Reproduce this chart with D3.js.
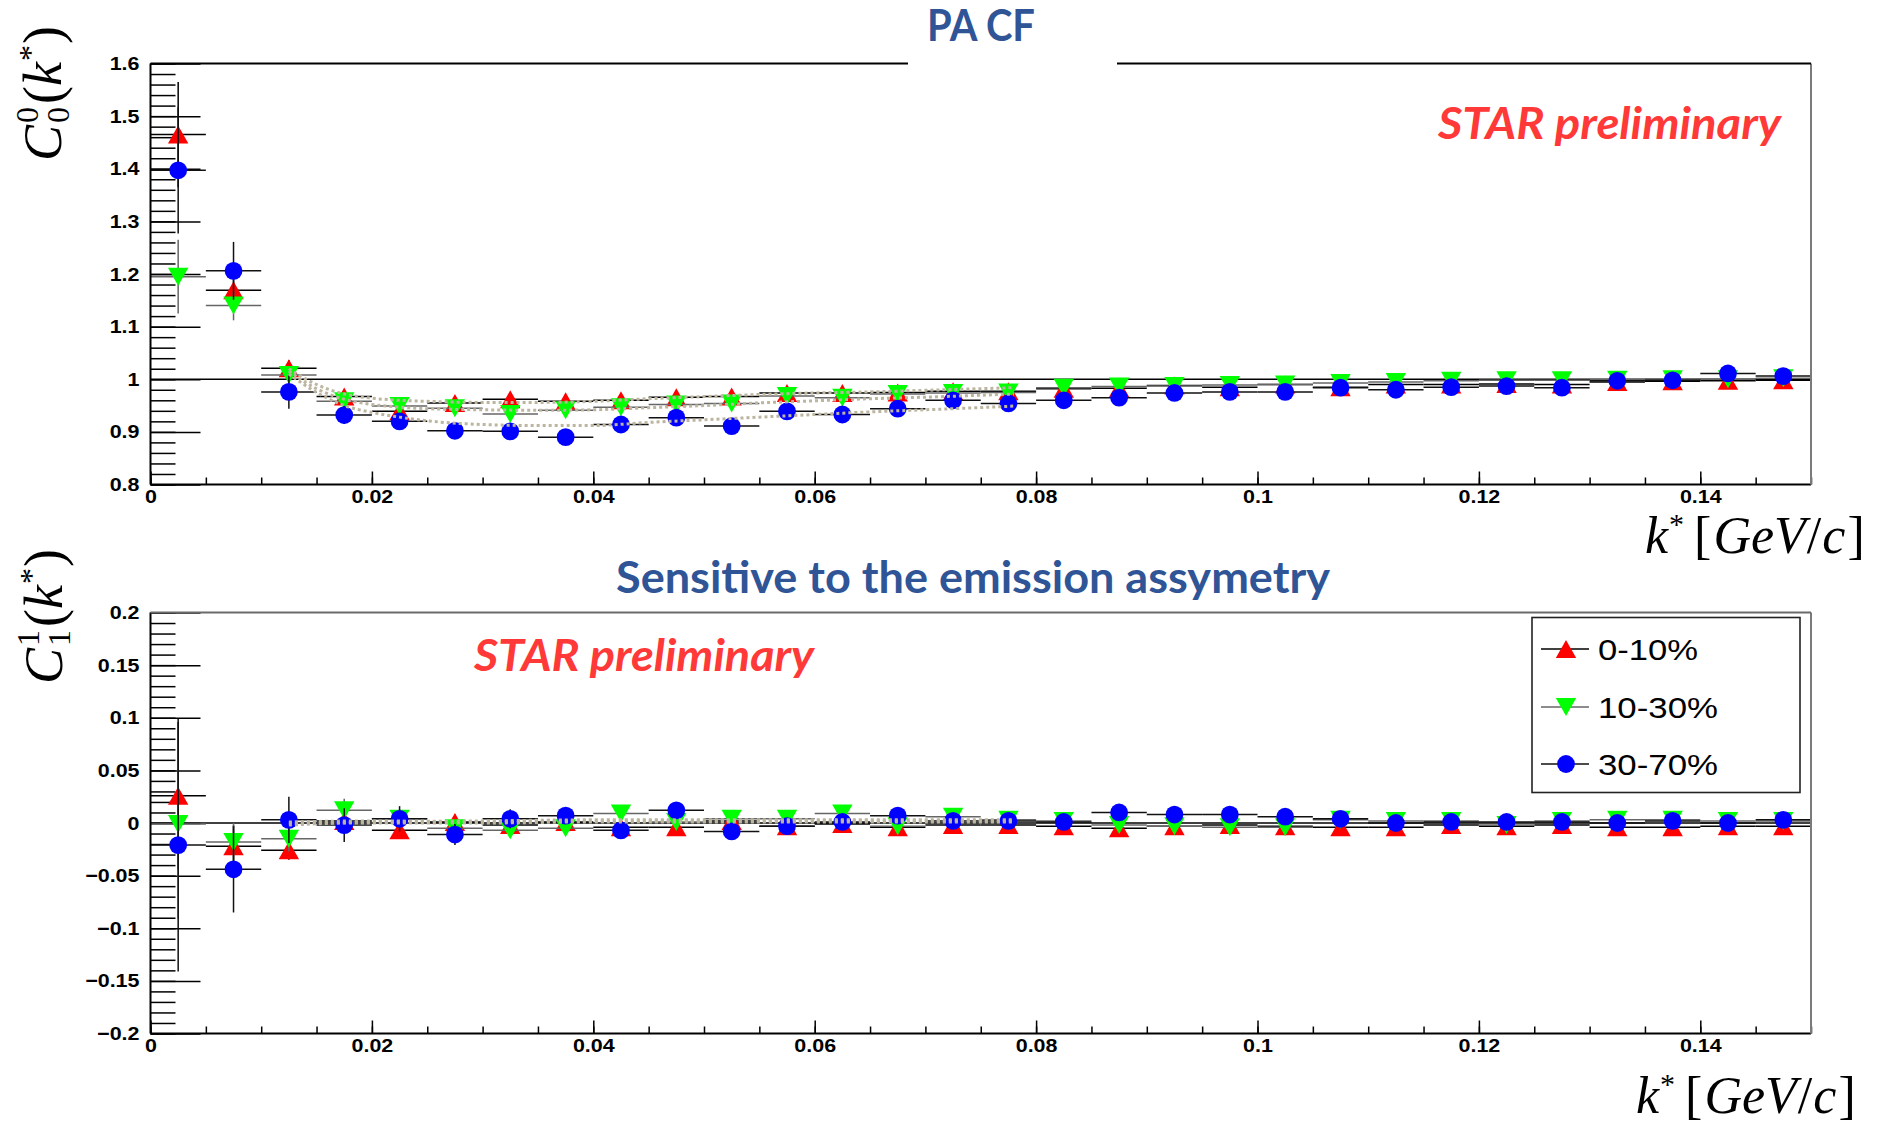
<!DOCTYPE html>
<html>
<head>
<meta charset="utf-8">
<script src="https://cdn.jsdelivr.net/npm/d3@7"></script>
<style>
  html, body { margin: 0; padding: 0; background: #fff; }
  svg { display: block; }
</style>
</head>
<body>
<svg id="chart" width="1881" height="1123"></svg>
<script>
// ---- data -------------------------------------------------------------
const kStar = [0.0025, 0.0075, 0.0125, 0.0175, 0.0225, 0.0275, 0.0325, 0.0375, 0.0425, 0.0475,
               0.0525, 0.0575, 0.0625, 0.0675, 0.0725, 0.0775, 0.0825, 0.0875, 0.0925, 0.0975,
               0.1025, 0.1075, 0.1125, 0.1175, 0.1225, 0.1275, 0.1325, 0.1375, 0.1425, 0.1475];
const binHalfWidth = 0.0025;

const seriesNames = ["0-10%", "10-30%", "30-70%"];

// C_0^0(k*)
const c00_0_10 = [1.465, 1.169, 1.021, 0.967, 0.939, 0.955, 0.962, 0.958, 0.960, 0.966,
                  0.967, 0.974, 0.974, 0.975, 0.977, 0.977, 0.982, 0.983, 0.988, 0.985,
                  0.990, 0.985, 0.990, 0.990, 0.991, 0.990, 0.995, 0.996, 0.997, 0.998];
const c00_10_30 = [1.195, 1.140, 1.008, 0.958, 0.949, 0.945, 0.934, 0.941, 0.947, 0.952,
                   0.954, 0.968, 0.965, 0.972, 0.974, 0.975, 0.984, 0.986, 0.987, 0.989,
                   0.990, 0.993, 0.995, 0.997, 0.998, 0.998, 0.999, 1.000, 1.000, 1.002];
const c00_30_70 = [1.397, 1.206, 0.976, 0.932, 0.920, 0.902, 0.901, 0.890, 0.914, 0.927,
                   0.911, 0.939, 0.933, 0.944, 0.960, 0.954, 0.960, 0.965, 0.974, 0.976,
                   0.976, 0.984, 0.980, 0.985, 0.987, 0.984, 0.997, 0.998, 1.011, 1.006];
const c00Err_0_10 = [0.100, 0.030, 0.015, 0.012, 0.010, 0.009, 0.009, 0.008, 0.008, 0.007,
                     0.007, 0.007, 0.006, 0.006, 0.006, 0.006, 0.005, 0.005, 0.005, 0.005,
                     0.005, 0.005, 0.004, 0.004, 0.004, 0.004, 0.004, 0.004, 0.004, 0.004];
const c00Err_10_30 = [0.070, 0.028, 0.015, 0.011, 0.009, 0.009, 0.008, 0.008, 0.007, 0.007,
                      0.007, 0.006, 0.006, 0.006, 0.006, 0.005, 0.005, 0.005, 0.005, 0.005,
                      0.004, 0.004, 0.004, 0.004, 0.004, 0.004, 0.004, 0.004, 0.004, 0.004];
const c00Err_30_70 = [0.120, 0.055, 0.032, 0.017, 0.013, 0.011, 0.010, 0.010, 0.009, 0.009,
                      0.008, 0.008, 0.008, 0.007, 0.007, 0.007, 0.006, 0.006, 0.006, 0.006,
                      0.006, 0.005, 0.005, 0.005, 0.005, 0.005, 0.005, 0.005, 0.005, 0.005];

// C_1^1(k*)
const c11_0_10 = [0.026, -0.022, -0.026, 0.002, -0.007, 0.001, -0.002, 0.001, -0.004, -0.004,
                  0.002, -0.003, -0.001, -0.004, -0.002, -0.002, -0.003, -0.005, -0.003, -0.002,
                  -0.003, -0.004, -0.004, -0.002, -0.003, -0.002, -0.004, -0.004, -0.003, -0.003];
const c11_10_30 = [-0.001, -0.018, -0.015, 0.012, 0.004, -0.005, -0.007, -0.005, 0.009, 0.001,
                   0.004, 0.004, 0.009, -0.003, 0.006, 0.003, 0.002, -0.002, -0.003, -0.004,
                   -0.004, 0.003, 0.002, 0.002, -0.002, 0.002, 0.003, 0.003, 0.002, 0.002];
const c11_30_70 = [-0.021, -0.044, 0.003, -0.002, 0.004, -0.011, 0.004, 0.007, -0.007, 0.012,
                   -0.008, -0.003, 0.001, 0.007, 0.002, 0.002, 0.001, 0.010, 0.008, 0.008,
                   0.006, 0.004, 0.000, 0.001, 0.001, 0.001, 0.000, 0.002, 0.000, 0.003];
const c11Err_0_10 = [0.070, 0.020, 0.009, 0.009, 0.008, 0.007, 0.006, 0.006, 0.005, 0.005,
                     0.005, 0.005, 0.004, 0.004, 0.004, 0.004, 0.004, 0.004, 0.004, 0.004,
                     0.004, 0.004, 0.004, 0.004, 0.004, 0.004, 0.004, 0.004, 0.004, 0.004];
const c11Err_10_30 = [0.090, 0.018, 0.012, 0.011, 0.009, 0.008, 0.007, 0.006, 0.006, 0.005,
                      0.005, 0.005, 0.005, 0.004, 0.004, 0.004, 0.004, 0.004, 0.004, 0.004,
                      0.004, 0.004, 0.004, 0.004, 0.004, 0.004, 0.004, 0.004, 0.004, 0.004];
const c11Err_30_70 = [0.120, 0.041, 0.022, 0.016, 0.012, 0.010, 0.009, 0.008, 0.007, 0.007,
                      0.006, 0.006, 0.006, 0.006, 0.005, 0.005, 0.005, 0.005, 0.005, 0.005,
                      0.005, 0.005, 0.005, 0.005, 0.005, 0.005, 0.005, 0.005, 0.005, 0.005];

// fit curves, [k*, value]
const c00Fit_0_10 = [[0.0125, 1.020], [0.015, 0.990], [0.0175, 0.972], [0.02, 0.964], [0.0225, 0.960],
                     [0.025, 0.958], [0.03, 0.956], [0.035, 0.956], [0.04, 0.958], [0.045, 0.963],
                     [0.05, 0.967], [0.055, 0.971], [0.06, 0.974], [0.065, 0.976], [0.07, 0.979], [0.078, 0.984]];
const c00Fit_10_30 = [[0.0125, 1.015], [0.015, 0.982], [0.0175, 0.962], [0.02, 0.952], [0.0225, 0.947],
                      [0.025, 0.944], [0.03, 0.942], [0.035, 0.941], [0.04, 0.942], [0.045, 0.946],
                      [0.05, 0.950], [0.055, 0.955], [0.06, 0.959], [0.065, 0.963], [0.07, 0.966], [0.078, 0.972]];
const c00Fit_30_70 = [[0.0125, 1.010], [0.015, 0.975], [0.0175, 0.950], [0.02, 0.937], [0.0225, 0.928],
                      [0.025, 0.921], [0.03, 0.914], [0.035, 0.912], [0.04, 0.912], [0.045, 0.918],
                      [0.05, 0.923], [0.055, 0.928], [0.06, 0.933], [0.065, 0.938], [0.07, 0.942], [0.078, 0.949]];
const c11Fit_0_10 = [[0.0125, -0.002], [0.02, 0.001], [0.03, 0.002], [0.04, 0.003], [0.05, 0.003],
                     [0.06, 0.003], [0.07, 0.003], [0.078, 0.003]];
const c11Fit_10_30 = [[0.0125, 0.001], [0.02, 0.002], [0.03, 0.001], [0.04, 0.002], [0.05, 0.002],
                      [0.06, 0.002], [0.07, 0.002], [0.078, 0.002]];
const c11Fit_30_70 = [[0.0125, 0.000], [0.02, 0.000], [0.03, 0.000], [0.04, 0.001], [0.05, 0.001],
                      [0.06, 0.001], [0.07, 0.001], [0.078, 0.001]];

// axis ticks
const xTickValues = [0, 0.02, 0.04, 0.06, 0.08, 0.1, 0.12, 0.14];
const c00TickValues = [0.8, 0.9, 1, 1.1, 1.2, 1.3, 1.4, 1.5, 1.6];
const c11TickValues = [-0.2, -0.15, -0.1, -0.05, 0, 0.05, 0.1, 0.15, 0.2];

// ---- styles -----------------------------------------------------------
const markerFill = ["#ff0000", "#00ff00", "#0000ff"];
const errColor = ["#000000", "#666666", "#111111"];
const markerShape = ["up", "down", "circle"];
const titleBlue = "#2f5597";
const starRed = "#ff3838";
const fitColor = "#bcb5a0";

const svg = d3.select("#chart");
const W = 1881, H = 1123;
svg.append("rect").attr("width", W).attr("height", H).attr("fill", "#fff");

const x = d3.scaleLinear().domain([0, 0.15]).range([150.5, 1811]);
const yTop = d3.scaleLinear().domain([0.8, 1.6]).range([484.5, 63.5]);
const yBot = d3.scaleLinear().domain([-0.2, 0.2]).range([1033.5, 612.5]);

const labelFont = "'Liberation Sans', Arial, Helvetica, sans-serif";
const mathFont = "'Liberation Serif', 'DejaVu Serif', serif";

function markerPath(shape) {
  if (shape === "up") return "M-10.2,9L10.2,9L0,-9Z";
  if (shape === "down") return "M-10.2,-9L10.2,-9L0,9Z";
  return d3.arc()({innerRadius: 0, outerRadius: 8.9, startAngle: 0, endAngle: 2 * Math.PI});
}

// bold tick labels, slightly widened
function styleTickText(sel) {
  sel.attr("font-family", labelFont).attr("font-weight", "bold")
    .attr("font-size", 19).attr("fill", "#000")
    .each(function() {
      const w = this.getComputedTextLength();
      d3.select(this).attr("textLength", w * 1.13).attr("lengthAdjust", "spacingAndGlyphs");
    });
}

function drawAxes(y, majorTicks, minorCount, axisG) {
  // y axis: ticks point into the frame
  axisG.append("g")
    .attr("transform", `translate(${x(0)},0)`)
    .call(d3.axisLeft(y).tickValues(y.ticks(minorCount)).tickSizeInner(-25).tickSizeOuter(0).tickFormat(""))
    .call(g => g.select(".domain").remove())
    .call(g => g.selectAll("line").attr("stroke", "#000").attr("stroke-width", 1.5));
  axisG.append("g")
    .attr("transform", `translate(${x(0)},0)`)
    .call(d3.axisLeft(y).tickValues(majorTicks).tickSizeInner(-50).tickSizeOuter(0)
      .tickPadding(11).tickFormat(d3.format("~g")))
    .call(g => g.select(".domain").remove())
    .call(g => g.selectAll("line").attr("stroke", "#000").attr("stroke-width", 1.5))
    .call(g => styleTickText(g.selectAll("text")));
  // x axis
  const y0 = y.range()[0];
  axisG.append("g")
    .attr("transform", `translate(0,${y0})`)
    .call(d3.axisBottom(x).tickValues(x.ticks(30)).tickSizeInner(-7).tickSizeOuter(0).tickFormat(""))
    .call(g => g.select(".domain").remove())
    .call(g => g.selectAll("line").attr("stroke", "#000").attr("stroke-width", 1.5));
  axisG.append("g")
    .attr("transform", `translate(0,${y0})`)
    .call(d3.axisBottom(x).tickValues(xTickValues).tickSizeInner(-13).tickSizeOuter(0)
      .tickPadding(5).tickFormat(d3.format("~g")))
    .call(g => g.select(".domain").remove())
    .call(g => g.selectAll("line").attr("stroke", "#000").attr("stroke-width", 1.5))
    .call(g => styleTickText(g.selectAll("text")));
}

function drawFrame(y, g, gap) {
  const [x0, x1] = x.range();
  const [yb, yt] = y.range();
  g.append("line").attr("x1", x0).attr("x2", x0).attr("y1", yt).attr("y2", yb)
    .attr("stroke", "#000").attr("stroke-width", 2);
  g.append("line").attr("x1", x0).attr("x2", x1).attr("y1", yb).attr("y2", yb)
    .attr("stroke", "#000").attr("stroke-width", 2);
  g.append("line").attr("x1", x1).attr("x2", x1).attr("y1", yt).attr("y2", yb)
    .attr("stroke", "#7a7a7a").attr("stroke-width", 2);
  const topColor = gap ? "#000" : "#6a6a6a";
  if (gap) {
    g.append("line").attr("x1", x0).attr("x2", gap[0]).attr("y1", yt).attr("y2", yt)
      .attr("stroke", topColor).attr("stroke-width", 2);
    g.append("line").attr("x1", gap[1]).attr("x2", x1).attr("y1", yt).attr("y2", yt)
      .attr("stroke", topColor).attr("stroke-width", 2);
  } else {
    g.append("line").attr("x1", x0).attr("x2", x1).attr("y1", yt).attr("y2", yt)
      .attr("stroke", topColor).attr("stroke-width", 2);
  }
}

function drawPanel(y, refValue, values, errors, fits, majorTicks, minorCount, gap) {
  const g = svg.append("g");
  drawAxes(y, majorTicks, minorCount, g);
  // reference line
  g.append("line").attr("x1", x.range()[0]).attr("x2", x.range()[1])
    .attr("y1", y(refValue)).attr("y2", y(refValue))
    .attr("stroke", "#000").attr("stroke-width", 1.5);

  values.forEach((vals, s) => {
    const sg = g.append("g");
    const pts = kStar.map((k, i) => ({k, v: vals[i], e: errors[s][i]}));
    sg.selectAll("line.h").data(pts).join("line")
      .attr("x1", d => x(d.k - binHalfWidth)).attr("x2", d => x(d.k + binHalfWidth))
      .attr("y1", d => y(d.v)).attr("y2", d => y(d.v))
      .attr("stroke", errColor[s]).attr("stroke-width", 1.5);
    sg.selectAll("line.v").data(pts).join("line")
      .attr("x1", d => x(d.k)).attr("x2", d => x(d.k))
      .attr("y1", d => y(d.v - d.e)).attr("y2", d => y(d.v + d.e))
      .attr("stroke", errColor[s]).attr("stroke-width", 1.5);
    sg.selectAll("path").data(pts).join("path")
      .attr("d", markerPath(markerShape[s]))
      .attr("transform", d => `translate(${x(d.k)},${y(d.v)})`)
      .attr("fill", markerFill[s]);
  });

  const line = d3.line().x(d => x(d[0])).y(d => y(d[1])).curve(d3.curveMonotoneX);
  fits.forEach(f => {
    g.append("path").attr("d", line(f)).attr("fill", "none")
      .attr("stroke", fitColor).attr("stroke-width", 3).attr("stroke-dasharray", "3,3");
  });

  drawFrame(y, g, gap);
  return g;
}

drawPanel(yTop, 1, [c00_0_10, c00_10_30, c00_30_70],
  [c00Err_0_10, c00Err_10_30, c00Err_30_70],
  [c00Fit_0_10, c00Fit_10_30, c00Fit_30_70], c00TickValues, 40, [908, 1117]);
drawPanel(yBot, 0, [c11_0_10, c11_10_30, c11_30_70],
  [c11Err_0_10, c11Err_10_30, c11Err_30_70],
  [c11Fit_0_10, c11Fit_10_30, c11Fit_30_70], c11TickValues, 40, null);

// ---- titles -----------------------------------------------------------
const titleFont = "Lato, 'Open Sans', 'Noto Sans', sans-serif";
function bannerText(txt, x0, base, len, size, color, italic) {
  svg.append("text").attr("x", x0).attr("y", base)
    .attr("font-family", titleFont).attr("font-weight", "bold")
    .attr("font-style", italic ? "italic" : "normal")
    .attr("font-size", size).attr("fill", color)
    .attr("textLength", len).attr("lengthAdjust", "spacingAndGlyphs")
    .text(txt);
}
bannerText("PA CF", 927, 41, 108, 43, titleBlue, false);
bannerText("Sensitive to the emission assymetry", 616, 593, 714, 43, titleBlue, false);
bannerText("STAR preliminary", 1438, 138.5, 343, 43, starRed, true);
bannerText("STAR preliminary", 474, 671, 340, 43, starRed, true);

// ---- math labels --------------------------------------------------------
function drawMath(parent, parts, baseSize) {
  let cx = 0, lastStart = 0;
  parts.forEach(p => {
    const t = parent.append("text")
      .attr("font-family", mathFont)
      .attr("font-style", p.upright ? "normal" : "italic")
      .attr("font-size", p.size || baseSize)
      .attr("y", p.dy || 0)
      .attr("fill", "#000")
      .text(p.t);
    const w = t.node().getComputedTextLength();
    if (p.stack) {
      t.attr("x", lastStart);
      cx = Math.max(cx, lastStart + w + (p.gap || 0));
    } else {
      lastStart = cx + (p.pre || 0);
      t.attr("x", lastStart);
      cx = lastStart + w + (p.gap || 0);
    }
  });
  return cx;
}

function yLabel(sup, sub, xBase, yStart) {
  const g = svg.append("g").attr("transform", `translate(${xBase},${yStart}) rotate(-90)`);
  drawMath(g, [
    {t: "C", gap: 2},
    {t: sup, size: 32, dy: -23, upright: true},
    {t: sub, size: 32, dy: 8, stack: true, upright: true, gap: 3},
    {t: "(", upright: true},
    {t: "k", gap: 1},
    {t: "*", size: 32, dy: -20, upright: true, gap: 1},
    {t: ")", upright: true}
  ], 54);
}
yLabel("0", "0", 61, 161);
yLabel("1", "1", 62, 684);

function xLabel(xStart, base) {
  const g = svg.append("g").attr("transform", `translate(${xStart},${base})`);
  drawMath(g, [
    {t: "k", gap: 1},
    {t: "*", size: 30, dy: -19, upright: true, gap: 10},
    {t: "[", upright: true, gap: 2},
    {t: "GeV", gap: 1},
    {t: "/", upright: true, gap: 1},
    {t: "c", gap: 2},
    {t: "]", upright: true}
  ], 52);
}
xLabel(1645, 553);
xLabel(1636, 1113);

// ---- legend -------------------------------------------------------------
const legend = svg.append("g");
legend.append("rect").attr("x", 1532).attr("y", 617.5).attr("width", 268).attr("height", 175)
  .attr("fill", "#fff").attr("stroke", "#222").attr("stroke-width", 1.6);
const legendRows = [649, 707, 764];
const legendLen = [100, 120, 120];
seriesNames.forEach((name, s) => {
  const cy = legendRows[s];
  legend.append("line").attr("x1", 1541).attr("x2", 1589).attr("y1", cy).attr("y2", cy)
    .attr("stroke", errColor[s]).attr("stroke-width", 1.5);
  legend.append("path").attr("d", markerPath(markerShape[s]))
    .attr("transform", `translate(1566,${cy})`).attr("fill", markerFill[s]);
  legend.append("text").attr("x", 1598).attr("y", cy + 11)
    .attr("font-family", labelFont).attr("font-size", 30).attr("fill", "#000")
    .attr("textLength", legendLen[s]).attr("lengthAdjust", "spacingAndGlyphs")
    .text(name);
});
</script>
</body>
</html>
